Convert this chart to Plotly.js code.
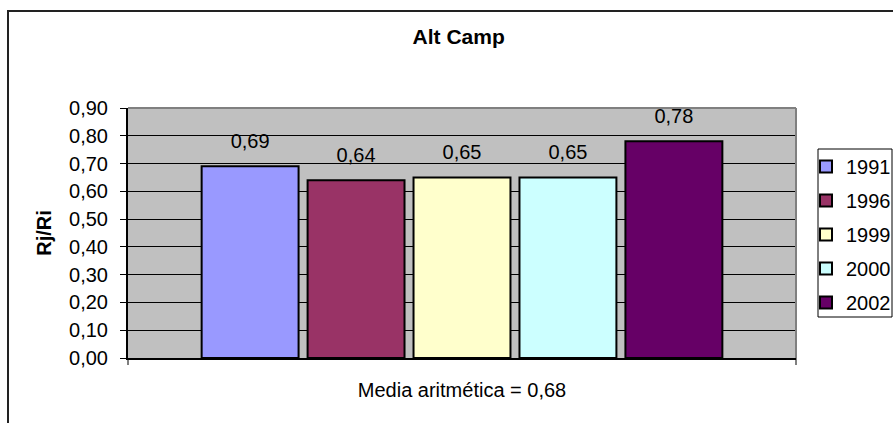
<!DOCTYPE html>
<html>
<head>
<meta charset="utf-8">
<script src="https://cdn.plot.ly/plotly-3.0.1.min.js"></script>
<style>html,body{margin:0;padding:0;background:#fff;}#chart{width:893px;height:423px;}</style>
</head>
<body>
<div id="chart"></div>
<script>
// ---- data ----
const category = ['Alt Camp'];
const years = ['1991', '1996', '1999', '2000', '2002'];
const values = [0.69, 0.64, 0.65, 0.65, 0.78];
const colors = ['#9999FF', '#993366', '#FFFFCC', '#CCFFFF', '#660066'];
const chartTitle = 'Alt Camp';
const yTitle = 'Rj/Ri';
const xTitle = 'Media aritmética = 0,68';
const yTicks = [0, 0.1, 0.2, 0.3, 0.4, 0.5, 0.6, 0.7, 0.8, 0.9];

const FONT = 'Liberation Sans, Arial, sans-serif';
const BARGAP = 0.207;

const traces = [];
years.forEach((yr, i) => {
  traces.push({
    type: 'bar',
    name: yr,
    legendgroup: yr,
    x: category,
    y: [values[i]],
    marker: {color: colors[i], line: {color: '#000', width: 2}},
    hoverinfo: 'name+y'
  });
});
years.forEach((yr, i) => {
  traces.push({
    type: 'scatter',
    mode: 'markers+text',
    name: yr,
    legendgroup: yr,
    showlegend: false,
    x: category,
    y: [values[i]],
    text: [values[i].toFixed(2).replace('.', ',')],
    textposition: 'top center',
    textfont: {family: FONT, size: 20, color: '#000'},
    marker: {size: 20, opacity: 0},
    hoverinfo: 'skip',
    cliponaxis: false
  });
});

const px = (p) => (p - 128) / 668;
const py = (p) => (358 - p) / 250;

const layout = {
  width: 893,
  height: 423,
  margin: {l: 128, r: 97, t: 108, b: 65, autoexpand: false},
  paper_bgcolor: '#ffffff',
  plot_bgcolor: '#C0C0C0',
  font: {family: FONT, size: 20, color: '#000'},
  separators: ',.',
  barmode: 'group',
  bargap: BARGAP,
  bargroupgap: 0.085,
  scattermode: 'group',
  scattergap: BARGAP,
  showlegend: true,
  title: {
    text: '<b>' + chartTitle + '</b>',
    font: {family: FONT, size: 21, color: '#000'},
    xref: 'paper', x: 0.495, xanchor: 'center',
    yref: 'container', y: 1 - 37 / 423, yanchor: 'middle'
  },
  xaxis: {
    type: 'category',
    showticklabels: false,
    ticks: '',
    showline: true, linecolor: '#000', linewidth: 2,
    showgrid: false, zeroline: false,
    fixedrange: true,
    automargin: false,
    title: {text: xTitle, font: {family: FONT, size: 20, color: '#000'}, standoff: 24}
  },
  yaxis: {
    range: [0, 0.9],
    tickvals: yTicks,
    tickformat: '.2f',
    tickfont: {family: FONT, size: 20, color: '#000'},
    ticks: 'outside', ticklen: 6, tickcolor: '#000', tickwidth: 1,
    ticklabelstandoff: 8,
    showline: true, linecolor: '#000', linewidth: 2,
    showgrid: true, gridcolor: '#000', gridwidth: 1,
    zeroline: false,
    fixedrange: true,
    automargin: false,
    title: {text: '<b>' + yTitle + '</b>', font: {family: FONT, size: 20, color: '#000'}, standoff: 12}
  },
  legend: {
    x: px(806), xanchor: 'left',
    y: py(147), yanchor: 'top',
    bgcolor: 'rgba(0,0,0,0)',
    borderwidth: 0,
    font: {family: FONT, size: 20, color: '#000'},
    traceorder: 'grouped',
    tracegroupgap: 5
  },
  shapes: [
    {type: 'rect', xref: 'paper', yref: 'paper', x0: px(8), x1: px(910), y0: py(440), y1: py(11),
     line: {color: '#222', width: 2}, fillcolor: 'rgba(0,0,0,0)', layer: 'above'},
    {type: 'rect', xref: 'paper', yref: 'paper', x0: px(818), x1: px(892), y0: py(317), y1: py(149),
     line: {color: '#000', width: 1}, fillcolor: '#ffffff', layer: 'below'},
    {type: 'line', xref: 'paper', yref: 'paper', x0: 0, x1: 1, y0: 1, y1: 1,
     line: {color: '#808080', width: 2}, layer: 'above'},
    {type: 'line', xref: 'paper', yref: 'paper', x0: 1, x1: 1, y0: 0, y1: 1,
     line: {color: '#808080', width: 2}, layer: 'above'},
    {type: 'line', xref: 'paper', yref: 'paper', x0: 0, x1: 0, y0: 0, y1: py(365),
     line: {color: '#000', width: 1}, layer: 'above'},
    {type: 'line', xref: 'paper', yref: 'paper', x0: 1, x1: 1, y0: 0, y1: py(365),
     line: {color: '#000', width: 1}, layer: 'above'}
  ]
};

Plotly.newPlot('chart', traces, layout, {displayModeBar: false, staticPlot: true});
</script>
</body>
</html>
